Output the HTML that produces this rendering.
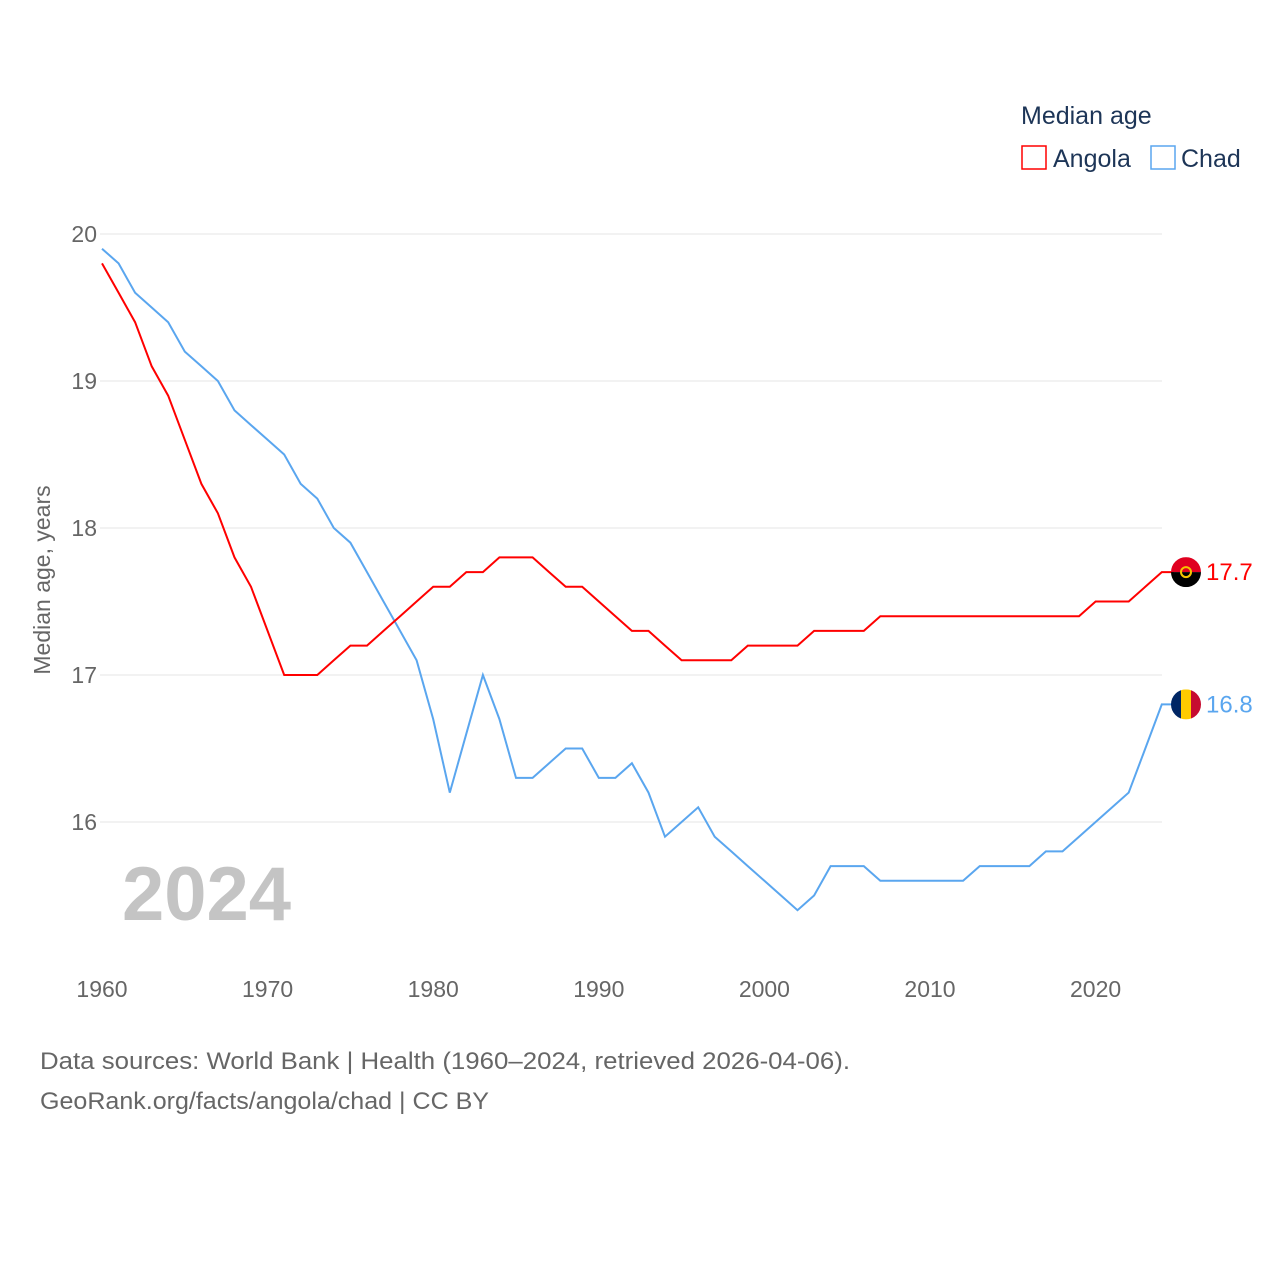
<!DOCTYPE html>
<html><head><meta charset="utf-8"><style>
body{margin:0;background:#fff;font-family:"Liberation Sans",sans-serif}
svg text{font-family:"Liberation Sans",sans-serif}
</style></head><body>
<svg id="chart" width="1280" height="1280" viewBox="0 0 1280 1280">
<g id="grid"></g>
<g id="lines"></g>
<text x="122" y="920" font-size="76" font-weight="bold" fill="#c4c4c4">2024</text>
<text transform="translate(50,580) rotate(-90)" text-anchor="middle" font-size="23" fill="#666">Median age, years</text>
<g>
<text x="1021" y="124" font-size="25" fill="#1d3557">Median age</text>
<g><rect x="1022" y="146" width="24" height="23" fill="none" stroke="#ff0000" stroke-width="1.5"/><text x="1053" y="167" font-size="25" fill="#1d3557">Angola</text></g>
<g><rect x="1151" y="146" width="24" height="23" fill="none" stroke="#5aa6ef" stroke-width="1.5"/><text x="1181" y="167" font-size="25" fill="#1d3557">Chad</text></g>
</g>
<text x="40" y="1069" font-size="24" fill="#666" textLength="810" lengthAdjust="spacingAndGlyphs">Data sources: World Bank | Health (1960–2024, retrieved 2026-04-06).</text>
<text x="40" y="1109" font-size="24" fill="#666" textLength="449" lengthAdjust="spacingAndGlyphs">GeoRank.org/facts/angola/chad | CC BY</text>
</svg>
<script>
const years=[];for(let y=1960;y<=2024;y++)years.push(y);
const angola=[19.8,19.6,19.4,19.1,18.9,18.6,18.3,18.1,17.8,17.6,17.3,17.0,17.0,17.0,17.1,17.2,17.2,17.3,17.4,17.5,17.6,17.6,17.7,17.7,17.8,17.8,17.8,17.7,17.6,17.6,17.5,17.4,17.3,17.3,17.2,17.1,17.1,17.1,17.1,17.2,17.2,17.2,17.2,17.3,17.3,17.3,17.3,17.4,17.4,17.4,17.4,17.4,17.4,17.4,17.4,17.4,17.4,17.4,17.4,17.4,17.5,17.5,17.5,17.6,17.7];
const chad=[19.9,19.8,19.6,19.5,19.4,19.2,19.1,19.0,18.8,18.7,18.6,18.5,18.3,18.2,18.0,17.9,17.7,17.5,17.3,17.1,16.7,16.2,16.6,17.0,16.7,16.3,16.3,16.4,16.5,16.5,16.3,16.3,16.4,16.2,15.9,16.0,16.1,15.9,15.8,15.7,15.6,15.5,15.4,15.5,15.7,15.7,15.7,15.6,15.6,15.6,15.6,15.6,15.6,15.7,15.7,15.7,15.7,15.8,15.8,15.9,16.0,16.1,16.2,16.5,16.8];
const yTicks=[16,17,18,19,20];
const xTicks=[1960,1970,1980,1990,2000,2010,2020];
const NS="http://www.w3.org/2000/svg";
const X=v=>102+(v-1960)*16.56;
const Y=v=>234+(20-v)*147;
function mk(t,a,p){const e=document.createElementNS(NS,t);for(const k in a)e.setAttribute(k,a[k]);p.appendChild(e);return e;}
const grid=document.getElementById('grid'),lines=document.getElementById('lines');
yTicks.forEach(t=>{
 const l=mk('line',{x1:100,x2:1162,y1:Y(t),y2:Y(t),stroke:'#e6e6e6','stroke-width':1},grid);
 
 
 const tx=mk('text',{x:97,y:Y(t)+8,'text-anchor':'end','font-size':23,fill:'#666'},grid);tx.textContent=t;
 
 
});
xTicks.forEach(t=>{
 const tx=mk('text',{x:X(t),y:997,'text-anchor':'middle','font-size':23,fill:'#666'},grid);tx.textContent=t;
 
 
});
function series(vals,color,name){
 const d=vals.map((v,i)=>(i?'L':'M')+X(years[i]).toFixed(1)+','+Y(v).toFixed(1)).join('')+'H'+(X(2024)+12);
 const p=mk('path',{d:d,fill:'none',stroke:color,'stroke-width':2},lines);
 
 
 const last=vals[vals.length-1],cy=Y(last);
 const g=mk('g',{},lines);
 
 
 if(name==='angola'){
  mk('clipPath',{id:'ca'},g);mk('circle',{cx:1186,cy:cy,r:15},g.lastChild);
  mk('rect',{x:1171,y:cy-15,width:30,height:15,fill:'#e00020','clip-path':'url(#ca)'},g);
  mk('rect',{x:1171,y:cy,width:30,height:15,fill:'#000','clip-path':'url(#ca)'},g);
  mk('circle',{cx:1186,cy:cy,r:5,fill:'none',stroke:'#f5c400','stroke-width':2},g);
 }else{
  mk('clipPath',{id:'cc'},g);mk('circle',{cx:1186,cy:cy,r:15},g.lastChild);
  mk('rect',{x:1171,y:cy-15,width:10,height:30,fill:'#002664','clip-path':'url(#cc)'},g);
  mk('rect',{x:1181,y:cy-15,width:10,height:30,fill:'#fecb00','clip-path':'url(#cc)'},g);
  mk('rect',{x:1191,y:cy-15,width:10,height:30,fill:'#c60c30','clip-path':'url(#cc)'},g);
 }
 const t=mk('text',{x:1206,y:cy+8,'font-size':24,fill:color},lines);t.textContent=last.toFixed(1);
 
 
}
series(chad,'#5aa6ef','chad');
series(angola,'#ff0000','angola');
</script>
</body></html>
